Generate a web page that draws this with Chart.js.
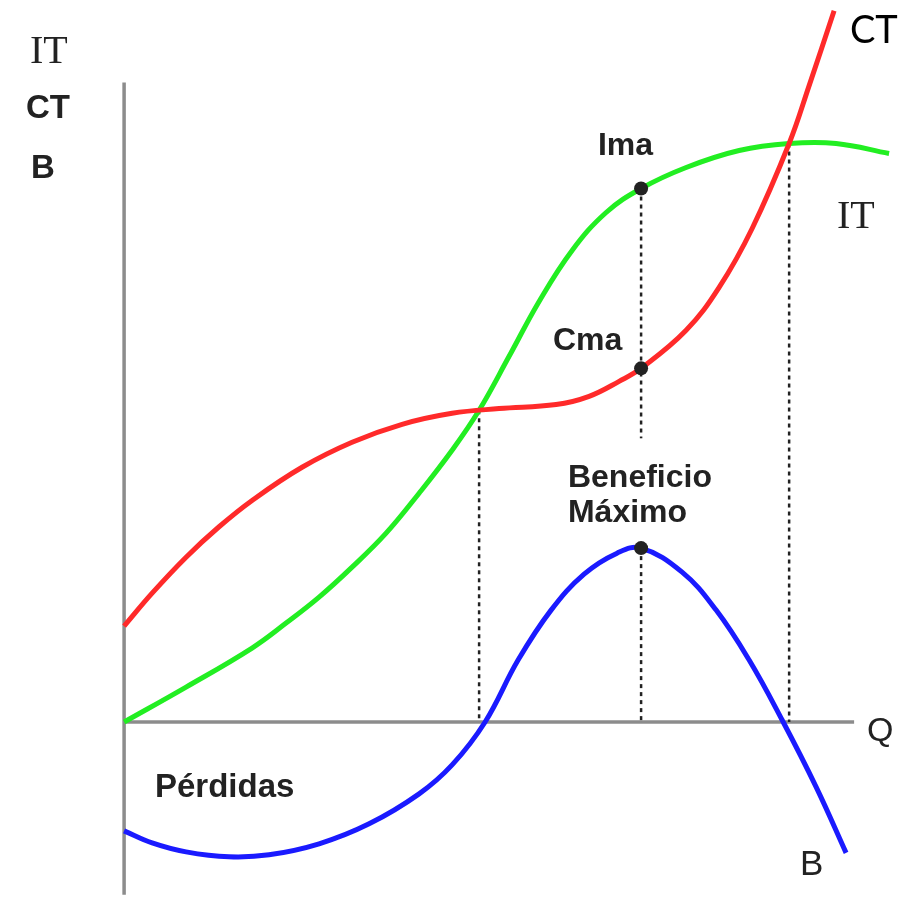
<!DOCTYPE html>
<html>
<head>
<meta charset="utf-8">
<script src="https://cdn.jsdelivr.net/npm/chart.js@4.4.1/dist/chart.umd.min.js"></script>
<style>
  html, body { margin: 0; padding: 0; background: #fff; }
  canvas { display: block; }
</style>
</head>
<body>
<canvas id="beneficio" width="922" height="897"></canvas>
<script>
// Cantidad (Q) y valores
const itQ = [0, 8.49, 17.53, 22.19, 26.71, 31.23, 35.89, 40.41, 44.93, 48.63, 52.74, 56.85, 61.37, 66.03, 70.82, 76.99, 84.25, 91.1, 97.53, 104.79];
const itValues = [0, 4.79, 10.14, 13.56, 17.12, 21.23, 25.89, 31.37, 37.26, 42.74, 50.14, 57.67, 64.66, 69.86, 73.15, 76.03, 78.36, 79.32, 79.32, 77.95];

const ctQ = [0, 3.84, 8.49, 13.01, 17.53, 24.38, 31.23, 38.08, 44.93, 51.37, 59.18, 63.7, 67.81, 70.82, 76.99, 81.51, 86.03, 91.1, 93.84, 97.26];
const ctValues = [13.15, 17.67, 22.6, 26.77, 30.38, 34.93, 38.36, 40.82, 42.33, 42.97, 43.52, 44.66, 46.71, 48.49, 53.7, 59.59, 67.67, 79.32, 87.26, 97.53];

const bQ = [0, 3.84, 8.49, 14.38, 19.86, 26.71, 33.56, 40.41, 44.93, 49.45, 53.97, 58.49, 63.01, 67.53, 70.82, 76.44, 81.1, 85.62, 90.14, 94.79, 98.9];
const bValues = [-14.93, -16.58, -17.81, -18.49, -18.22, -16.71, -13.97, -9.86, -5.89, 0, 8.49, 15.34, 20.27, 23.15, 23.84, 20.55, 15.34, 8.49, 0.27, -8.9, -17.95];

// Puntos marcados: Ima, Cma, Beneficio Máximo
const markQ = [70.82, 70.82, 70.82];
const markValues = [73.15, 48.49, 23.84];

// Líneas punteadas (Q, desde, hasta)
const guideQ = [48.63, 70.82, 70.82, 91.1];
const guideFrom = [42.74, 73.15, 23.84, 79.32];
const guideTo = [0, 38.9, 0, 0];

// Ejes
const axisQMax = 100;
const axisVTop = 87.7;
const axisVBottom = -23.7;

const labels = [
  { text: "IT", q: -12.89, v: 90.36, font: "40px 'Liberation Serif'", color: "#222" },
  { text: "CT", q: -13.44, v: 82.82, font: "bold 33px 'Liberation Sans'", color: "#222" },
  { text: "B", q: -12.75, v: 74.59, font: "bold 33px 'Liberation Sans'", color: "#222" },
  { text: "Ima", q: 64.91, v: 77.75, font: "bold 32px 'Liberation Sans'", color: "#222" },
  { text: "Cma", q: 58.75, v: 51.01, font: "bold 32px 'Liberation Sans'", color: "#222" },
  { text: "Beneficio", q: 60.8, v: 32.22, font: "bold 32px 'Liberation Sans'", color: "#222" },
  { text: "Máximo", q: 60.8, v: 27.42, font: "bold 32px 'Liberation Sans'", color: "#222" },
  { text: "Pérdidas", q: 4.23, v: -10.29, font: "bold 33px 'Liberation Sans'", color: "#222" },
  { text: "CT", q: 99.43, v: 93.1, font: "38px Lato", color: "#000" },
  { text: "IT", q: 97.65, v: 67.74, font: "40px 'Liberation Serif'", color: "#222" },
  { text: "Q", q: 101.76, v: -2.61, font: "34px 'Liberation Sans'", color: "#222" },
  { text: "B", q: 92.58, v: -20.98, font: "35px 'Liberation Sans'", color: "#222" }
];

function toPoints(xs, ys) {
  return xs.map((x, i) => ({ x: x, y: ys[i] }));
}

function curve(label, xs, ys, color, order) {
  return {
    label: label,
    data: toPoints(xs, ys),
    showLine: true,
    borderColor: color,
    borderWidth: 5,
    pointRadius: 0,
    tension: 0.4,
    order: order
  };
}

function guideDatasets() {
  let sets = [];
  for (let i = 0; i < guideQ.length; i++) {
    sets.push({
      data: [{ x: guideQ[i], y: guideFrom[i] }, { x: guideQ[i], y: guideTo[i] }],
      showLine: true,
      borderColor: '#222',
      borderWidth: 2.5,
      borderDash: [4, 4],
      pointRadius: 0,
      order: 8
    });
  }
  return sets;
}

const labelPlugin = {
  id: 'labels',
  afterDatasetsDraw(chart) {
    const ctx = chart.ctx;
    const x = chart.scales.x;
    const y = chart.scales.y;
    ctx.save();
    ctx.textBaseline = 'alphabetic';
    ctx.textAlign = 'left';
    labels.forEach(l => {
      ctx.font = l.font;
      ctx.fillStyle = l.color;
      ctx.fillText(l.text, x.getPixelForValue(l.q), y.getPixelForValue(l.v));
    });
    ctx.restore();
  }
};

document.addEventListener("DOMContentLoaded", () => {
  new Chart(document.getElementById('beneficio'), {
    type: 'scatter',
    data: {
      datasets: [
        {
          label: 'puntos',
          data: toPoints(markQ, markValues),
          pointRadius: 7,
          pointBackgroundColor: '#222',
          pointBorderWidth: 0,
          order: 0
        },
        curve('CT', ctQ, ctValues, '#ff2a2a', 1),
        curve('IT', itQ, itValues, '#22ee22', 2),
        curve('B', bQ, bValues, '#1a1aff', 3),
        ...guideDatasets(),
        {
          label: 'eje Q',
          data: [{ x: 0, y: 0 }, { x: axisQMax, y: 0 }],
          showLine: true, borderColor: '#8c8c8c', borderWidth: 3.5, pointRadius: 0, order: 9
        },
        {
          label: 'eje V',
          data: [{ x: 0, y: axisVTop }, { x: 0, y: axisVBottom }],
          showLine: true, borderColor: '#8c8c8c', borderWidth: 3.5, pointRadius: 0, order: 9
        }
      ]
    },
    options: {
      responsive: false,
      animation: false,
      layout: { padding: 0, autoPadding: false },
      plugins: {
        legend: { display: false },
        tooltip: { enabled: false }
      },
      scales: {
        x: { type: 'linear', min: -17, max: 109.3, display: false },
        y: { type: 'linear', min: -24, max: 99, display: false }
      }
    },
    plugins: [labelPlugin]
  });
});
</script>
</body>
</html>
